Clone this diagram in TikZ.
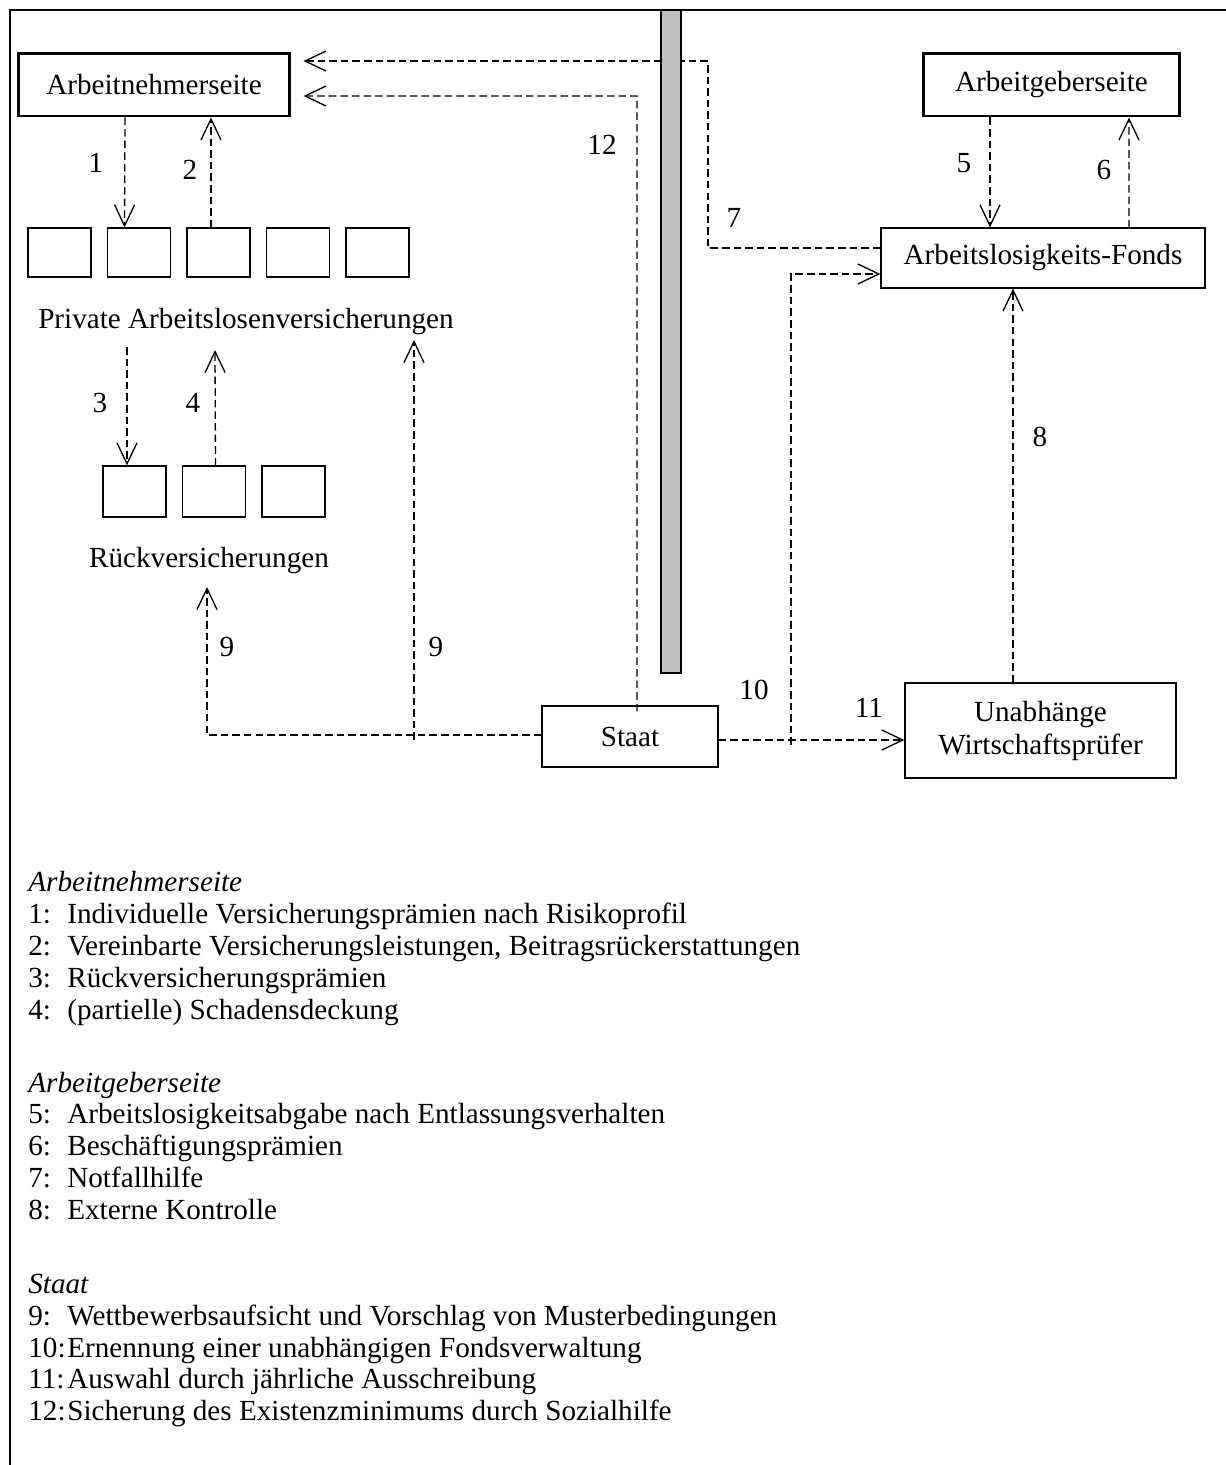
\documentclass[tikz,border=0pt]{standalone}
\usepackage{fontspec}
\setmainfont{Liberation Serif}
\usetikzlibrary{arrows.meta,calc}
\definecolor{bargray}{RGB}{192,192,192}
\tikzstyle{box} = [rectangle, draw, line width=0.75pt, inner sep=0pt, minimum width=1.26cm, minimum height=0.98cm]
\tikzstyle{sidebox} = [box, line width=1.7pt, minimum height=1.26cm]
\tikzstyle{flow} = [line width=0.75pt, dash pattern=on 4.3pt off 2.3pt, -{Straight Barb[length=0.42cm,width=0.4cm,line width=0.75pt]}]
\tikzstyle{num} = [inner sep=0pt]
\newcommand{\legnr}[1]{\makebox[0.78cm][l]{#1}}

\begin{document}
\begin{tikzpicture}[x=0.02cm, y=-0.02cm, font=\fontsize{16.6}{18.8}\selectfont]
\useasboundingbox (0,0) rectangle (1226,1465);
% frame
\draw[line width=0.04cm] (10,1465) -- (10,10) -- (1226,10);

% actors
\node (an) [sidebox, minimum width=5.44cm] at (154,84.5) {Arbeitnehmerseite};
\node (ag) [sidebox, minimum width=5.14cm] at (1051.5,84.5) {Arbeitgeberseite};
\node (fonds) [box, minimum width=6.48cm, minimum height=1.2cm] at (1043,258) {Arbeitslosigkeits-Fonds};
\node (staat) [box, minimum width=3.52cm, minimum height=1.22cm] at (630,736.5) {Staat};
\node (pruefer) [box, minimum width=5.42cm, minimum height=1.9cm, align=center] at (1040.5,730.5) {Unabhänge\\Wirtschaftsprüfer};

% insurers
\foreach \i in {1,...,5}
  \node (v\i) [box] at ({59.5+79.5*(\i-1)},252.5) {};
\node (priv) [num, anchor=base] at (246,328) {Private Arbeitslosenversicherungen};
\foreach \i in {1,2,3}
  \node (r\i) [box, minimum height=1.02cm] at ({134.5+79.5*(\i-1)},491.5) {};
\node (rueck) [num, anchor=base] at (209,567) {Rückversicherungen};

% flows
\draw[flow] ($(an.south)+(-29,0)$) -- ($(v2.north)+(-14.5,0)$);
\draw[flow] ($(v3.north)+(-7.5,0)$) -- ($(an.south)+(57,0)$);
\draw[flow] ($(priv.base)+(-119,19)$) -- ($(r1.north)+(-7.5,0)$);
\draw[flow] ($(r2.north)+(1.5,0)$) -- ($(priv.base)+(-31,22)$);
\draw[flow] ($(ag.south)+(-61.5,0)$) -- ($(fonds.north)+(-53,0)$);
\draw[flow] ($(fonds.north)+(86,0)$) -- ($(ag.south)+(77.5,0)$);
\draw[flow] ($(fonds.west)+(0,-10)$) -- (708,248) -- (708,61) -- ($(an.east)+(12,-23.5)$);
\draw[flow] ($(pruefer.north)+(-27.5,0)$) -- ($(fonds.south)+(-30,0)$);
\draw[flow] ($(staat.west)+(0,-1.5)$) -- (207,735) -- ($(rueck.base)+(-2,20)$);
\draw[flow] (414,740) -- ($(priv.base)+(168,12)$);
\draw[flow] (791,745) -- (791,274) -- ($(fonds.west)+(0,16)$);
\draw[flow] ($(staat.east)+(0,3.5)$) -- ($(pruefer.west)+(0,9.5)$);
\draw[flow] ($(staat.north)+(7,6)$) -- (637,96) -- ($(an.east)+(12,11.5)$);

% divider
\draw[fill=bargray, line width=0.75pt] (661,10) rectangle (681,673);

% numbers
\node (n1) [num] at (96,163) {1};
\node (n2) [num] at (190,170) {2};
\node (n3) [num] at (100,403) {3};
\node (n4) [num] at (193,403) {4};
\node (n5) [num] at (964,163) {5};
\node (n6) [num] at (1104,170) {6};
\node (n7) [num] at (734,218) {7};
\node (n8) [num] at (1040,437) {8};
\node (n9a) [num] at (227,647) {9};
\node (n9b) [num] at (436,647) {9};
\node (n10) [num] at (754,690) {10};
\node (n11) [num] at (869,708) {11};
\node (n12) [num] at (602,145) {12};

% legend
\foreach \y/\txt in {
  891/\textit{Arbeitnehmerseite},
  923/\legnr{1:}Individuelle Versicherungsprämien nach Risikoprofil,
  955/{\legnr{2:}Vereinbarte Versicherungsleistungen, Beitragsrückerstattungen},
  987/\legnr{3:}Rückversicherungsprämien,
  1019/\legnr{4:}(partielle) Schadensdeckung,
  1092/\textit{Arbeitgeberseite},
  1123/\legnr{5:}Arbeitslosigkeitsabgabe nach Entlassungsverhalten,
  1155/\legnr{6:}Beschäftigungsprämien,
  1187/\legnr{7:}Notfallhilfe,
  1219/\legnr{8:}Externe Kontrolle,
  1293/\textit{Staat},
  1325/\legnr{9:}Wettbewerbsaufsicht und Vorschlag von Musterbedingungen,
  1357/\legnr{10:}Ernennung einer unabhängigen Fondsverwaltung,
  1388/\legnr{11:}Auswahl durch jährliche Ausschreibung,
  1420/\legnr{12:}Sicherung des Existenzminimums durch Sozialhilfe}
  \node (leg\y) [num, anchor=base west] at (28,\y) {\txt};
\end{tikzpicture}
\end{document}
